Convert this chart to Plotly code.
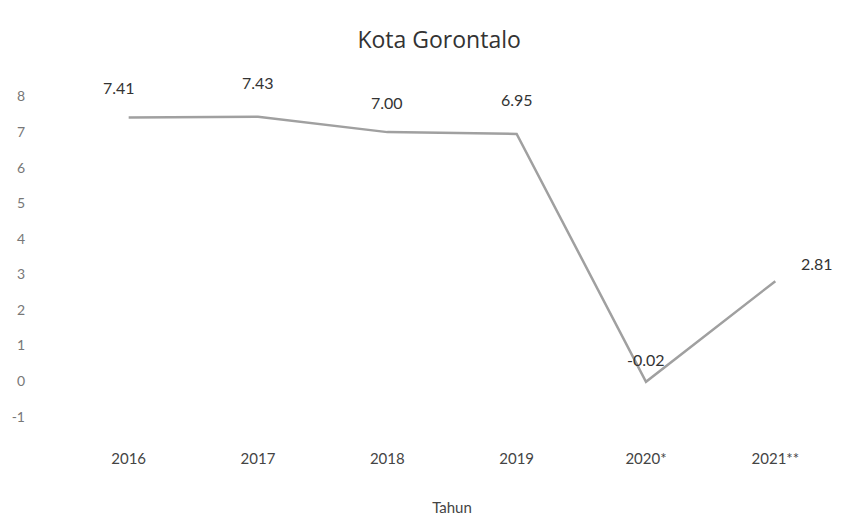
import plotly.graph_objects as go

years = ["2016", "2017", "2018", "2019", "2020*", "2021**"]
values = [7.41, 7.43, 7.00, 6.95, -0.02, 2.81]
y_ticks = [-1, 0, 1, 2, 3, 4, 5, 6, 7, 8]

fig = go.Figure()
fig.add_trace(go.Scatter(
    x=years, y=values, mode="lines",
    line=dict(color="#a0a0a0", width=2.5),
    hoverinfo="skip", showlegend=False,
))

shifts = [(-10, 30), (0, 34), (0, 30), (0, 34), (0, 22), (42, 18)]
for i, (v, (dx, dy)) in enumerate(zip(values, shifts)):
    fig.add_annotation(
        x=i, y=v, text=f"{v:.2f}", showarrow=False,
        xshift=dx, yshift=dy,
        font=dict(family="Lato", size=16, color="#333333"),
    )

fig.update_layout(
    width=861, height=526,
    paper_bgcolor="white", plot_bgcolor="white",
    margin=dict(l=63, r=21, t=93, b=84),
    title=dict(text="Kota Gorontalo", x=0.51, xanchor="center", y=0.925, yanchor="middle",
               font=dict(family="Open Sans", size=23, color="#333333")),
    font=dict(family="Lato", color="#555555"),
)
fig.update_xaxes(
    type="category", categoryorder="array", categoryarray=years,
    range=[-0.5, len(years) - 0.5],
    showgrid=False, zeroline=False, showline=False,
    ticks="", tickfont=dict(family="Lato", size=15, color="#444444"),
    ticklabelstandoff=10,
    title=dict(text="Tahun", font=dict(family="Lato", size=15, color="#444444"), standoff=36),
)
fig.update_yaxes(
    range=[-1.6, 8.1], tickvals=y_ticks, ticktext=[str(t) for t in y_ticks],
    showgrid=False, zeroline=False,
    showline=False, ticks="", tickfont=dict(family="Lato", size=14, color="#777777"),
    ticklabelstandoff=38,
)

fig.write_html("out.html")
